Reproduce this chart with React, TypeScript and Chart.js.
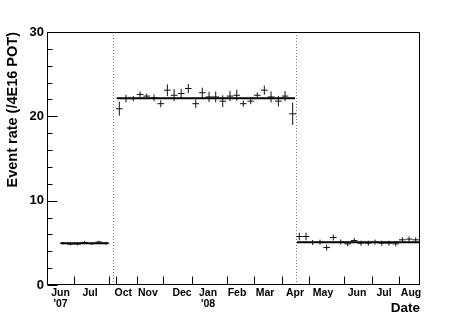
import React, { useEffect, useRef } from 'react';
import { Chart, registerables } from 'chart.js';

Chart.register(...registerables);

// x values are in "compressed days" (run gaps removed)
const pointX = [
  17, 24.5, 32, 39.5, 47, 54.5, 62,
  76.0, 83.0, 90.7, 97.8, 104.8, 112.5, 119.6, 126.5, 133.6, 141.0, 148.5, 156.3, 163.2,
  170.3, 177.3, 184.7, 192.3, 199.4, 206.3, 214.1, 221.0, 228.4, 235.5, 243.2, 250.2, 258.2,
  265.1, 272.2, 279.2, 286.9, 293.9, 300.9, 308.7, 316.0, 322.9, 330.0, 337.7, 344.7,
  351.8, 359.4, 366.5, 373.4, 380.5, 387.5,
];
const eventRate = [
  4.95, 4.85, 4.85, 5.05, 4.9, 5.1, 4.95,
  20.9, 22.1, 22.1, 22.6, 22.4, 22.2, 21.5, 23.1, 22.5, 22.7, 23.3, 21.5, 22.8,
  22.3, 22.3, 21.8, 22.4, 22.5, 21.5, 21.8, 22.5, 23.1, 22.3, 21.8, 22.4, 20.3,
  5.75, 5.75, 5.04, 5.08, 4.44, 5.63, 5.1, 4.88, 5.27, 4.96, 4.96, 5.08,
  4.96, 4.96, 4.88, 5.36, 5.44, 5.36,
];
const rateError = [
  0.15, 0.15, 0.15, 0.15, 0.15, 0.15, 0.15,
  0.83, 0.45, 0.3, 0.34, 0.3, 0.4, 0.42, 0.7, 0.7, 0.57, 0.54, 0.5, 0.6,
  0.6, 0.65, 0.7, 0.6, 0.65, 0.36, 0.36, 0.34, 0.54, 0.65, 0.63, 0.6, 1.33,
  0.45, 0.45, 0.3, 0.3, 0.35, 0.35, 0.3, 0.3, 0.3, 0.3, 0.3, 0.3,
  0.3, 0.3, 0.3, 0.3, 0.3, 0.3,
];
const binHalfWidth = 3.5;

const fitLevel = [4.95, 22.15, 5.08];
const fitStart = [14.4, 73.2, 262.7];
const fitEnd = [64.4, 260.6, 392];

const runBoundaries = [69.0, 261.7];

const monthLabelX = [14.2, 45.2, 80.2, 106.1, 141.9, 169.2, 199.7, 229.1, 260.6, 290.1, 325.8, 354.2, 382.6];
const monthLabels: (string | string[])[] = [
  ['Jun', "'07"], 'Jul', 'Oct', 'Nov', 'Dec', ['Jan', "'08"], 'Feb', 'Mar', 'Apr', 'May', 'Jun', 'Jul', 'Aug',
];
const xTickMarks = [28.7, 65.5, 72.5, 94.3, 121.9, 152.4, 189.2, 217.6, 247.0, 275.4, 312.1, 341.6, 370.0];

const yMajorTicks = [0, 10, 20, 30];
const yMinorTicks = [2, 4, 6, 8, 12, 14, 16, 18, 22, 24, 26, 28];

const X_MIN = 0;
const X_MAX = 392;
const FONT = '"Liberation Sans", Arial, Helvetica, sans-serif';

const rootStyle = {
  id: 'rootStyle',
  beforeDatasetsDraw(chart: any) {
    const { ctx, chartArea, scales } = chart;
    const xs = scales.x;
    ctx.save();
    ctx.strokeStyle = '#777';
    ctx.lineWidth = 1;
    ctx.setLineDash([1, 2]);
    runBoundaries.forEach((b) => {
      const px = Math.round(xs.getPixelForValue(b)) + 0.5;
      ctx.beginPath();
      ctx.moveTo(px, chartArea.top);
      ctx.lineTo(px, chartArea.bottom);
      ctx.stroke();
    });
    ctx.restore();
  },
  afterDatasetsDraw(chart: any) {
    const { ctx, chartArea, scales } = chart;
    const xs = scales.x;
    const ys = scales.y;
    ctx.save();
    // error bars
    ctx.strokeStyle = '#111';
    ctx.lineWidth = 1;
    pointX.forEach((xv, i) => {
      const px = xs.getPixelForValue(xv);
      const py = ys.getPixelForValue(eventRate[i]);
      const x0 = xs.getPixelForValue(xv - binHalfWidth);
      const x1 = xs.getPixelForValue(xv + binHalfWidth);
      const y0 = ys.getPixelForValue(eventRate[i] - rateError[i]);
      const y1 = ys.getPixelForValue(eventRate[i] + rateError[i]);
      ctx.beginPath();
      ctx.moveTo(x0, py);
      ctx.lineTo(x1, py);
      ctx.moveTo(px, y0);
      ctx.lineTo(px, y1);
      ctx.stroke();
    });
    // frame
    ctx.strokeStyle = '#000';
    const l = Math.round(chartArea.left) + 0.5;
    const r = Math.round(chartArea.right) - 0.5;
    const t = Math.round(chartArea.top) + 0.5;
    const b = Math.round(chartArea.bottom) - 0.5;
    ctx.strokeRect(l, t, r - l, b - t);
    // inward ticks
    ctx.beginPath();
    xTickMarks.forEach((v) => {
      const px = Math.round(xs.getPixelForValue(v)) + 0.5;
      ctx.moveTo(px, b);
      ctx.lineTo(px, b - 8);
    });
    yMajorTicks.forEach((v) => {
      const py = Math.round(ys.getPixelForValue(v)) + 0.5;
      ctx.moveTo(l, py);
      ctx.lineTo(l + 10, py);
    });
    yMinorTicks.forEach((v) => {
      const py = Math.round(ys.getPixelForValue(v)) + 0.5;
      ctx.moveTo(l, py);
      ctx.lineTo(l + 5, py);
    });
    ctx.stroke();
    ctx.restore();
  },
};

export default function App() {
  const canvasRef = useRef<HTMLCanvasElement | null>(null);

  useEffect(() => {
    if (!canvasRef.current) return;
    const fitDatasets = fitLevel.map((lvl, i) => ({
      type: 'line' as const,
      data: [
        { x: fitStart[i], y: lvl },
        { x: fitEnd[i], y: lvl },
      ],
      borderColor: '#000',
      borderWidth: 2,
      pointRadius: 0,
      showLine: true,
    }));
    const chart = new Chart(canvasRef.current, {
      type: 'scatter',
      data: {
        datasets: [
          {
            data: pointX.map((x, i) => ({ x, y: eventRate[i] })),
            pointRadius: 0,
            borderColor: '#000',
            backgroundColor: '#000',
          },
          ...fitDatasets,
        ] as any,
      },
      plugins: [rootStyle],
      options: {
        animation: false,
        responsive: false,
        layout: { padding: { top: 32, right: 47, left: 0, bottom: 0 } },
        plugins: { legend: { display: false }, tooltip: { enabled: false } },
        scales: {
          x: {
            type: 'linear',
            min: X_MIN,
            max: X_MAX,
            afterBuildTicks: (scale: any) => {
              scale.ticks = monthLabelX.map((v) => ({ value: v }));
            },
            afterFit: (scale: any) => {
              scale.height = 32;
            },
            grid: { display: false, drawTicks: false },
            border: { display: false },
            ticks: {
              autoSkip: false,
              maxRotation: 0,
              minRotation: 0,
              padding: 3,
              color: '#000',
              font: { family: FONT, size: 10.5, weight: 'bold', lineHeight: 1.05 },
              callback: (_v: any, index: number) => monthLabels[index],
            },
            title: {
              display: true,
              text: 'Date',
              align: 'end',
              color: '#000',
              font: { family: FONT, size: 13.5, weight: 'bold' },
              padding: { top: 0, bottom: 1 },
            },
          },
          y: {
            type: 'linear',
            min: 0,
            max: 30,
            afterBuildTicks: (scale: any) => {
              scale.ticks = yMajorTicks.map((v) => ({ value: v }));
            },
            afterFit: (scale: any) => {
              scale.width = 47;
            },
            grid: { display: false, drawTicks: false },
            border: { display: false },
            ticks: {
              padding: 3,
              color: '#000',
              font: { family: FONT, size: 13, weight: 'bold' },
            },
            title: {
              display: true,
              text: 'Event rate (/4E16 POT)',
              align: 'end',
              color: '#000',
              font: { family: FONT, size: 14.5, weight: 'bold' },
              padding: { top: 4, bottom: 0 },
            },
          },
        },
      } as any,
    });
    return () => chart.destroy();
  }, []);

  return (
    <div style={{ position: 'absolute', left: 0, top: 0, width: 467, height: 317, background: '#fff' }}>
      <canvas ref={canvasRef} width={467} height={317} style={{ display: 'block' }} />
    </div>
  );
}
